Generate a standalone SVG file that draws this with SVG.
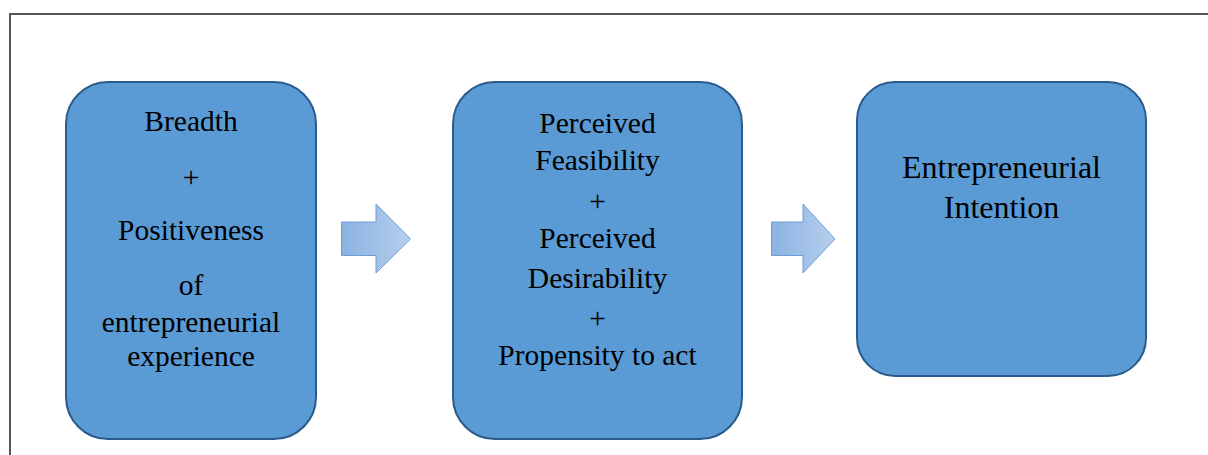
<svg xmlns="http://www.w3.org/2000/svg" width="1208" height="455" viewBox="0 0 1208 455">
<style>
.box{fill:#5b9bd5;stroke:#2b5b8c;stroke-width:2}
.t{font-family:"Liberation Serif","Times New Roman",serif;font-size:29.5px;fill:#000;text-anchor:middle}
.tb{font-size:32px}
.arr{fill:url(#ag);stroke:#6b9ed8;stroke-width:1}
</style>
<defs>
<linearGradient id="ag" x1="0" y1="0" x2="1" y2="0">
<stop offset="0" stop-color="#8cb2e2"/>
<stop offset="1" stop-color="#b6cfec"/>
</linearGradient>
</defs>
<rect x="0" y="0" width="1208" height="455" fill="#fff"/>
<path d="M10,470 V14 H1220" fill="none" stroke="#555" stroke-width="2"/>
<g id="node-experience">
<rect class="box" x="66" y="82" width="250" height="357" rx="42" ry="42"/>
<text class="t" x="191" y="131">Breadth</text>
<text class="t" x="191" y="187">+</text>
<text class="t" x="191" y="240">Positiveness</text>
<text class="t" x="191" y="295">of</text>
<text class="t" x="191" y="332">entrepreneurial</text>
<text class="t" x="191" y="366">experience</text>
</g>
<g id="node-perceptions">
<rect class="box" x="453" y="82" width="289" height="357" rx="42" ry="42"/>
<text class="t" x="597.5" y="133">Perceived</text>
<text class="t" x="597.5" y="170">Feasibility</text>
<text class="t" x="597.5" y="211">+</text>
<text class="t" x="597.5" y="248">Perceived</text>
<text class="t" x="597.5" y="288">Desirability</text>
<text class="t" x="597.5" y="328">+</text>
<text class="t" x="597.5" y="365">Propensity to act</text>
</g>
<g id="node-intention">
<rect class="box" x="857" y="82" width="289" height="294" rx="38" ry="38"/>
<text class="t tb" x="1001.5" y="178">Entrepreneurial</text>
<text class="t tb" x="1001.5" y="218">Intention</text>
</g>
<g id="connectors">
<path class="arr" d="M341.5,222 H376 V204 L410.5,239 L376,273 V255.5 H341.5 Z"/>
<path class="arr" d="M771.5,222 H803 V204 L835,239 L803,273 V255.5 H771.5 Z"/>
</g>
</svg>
